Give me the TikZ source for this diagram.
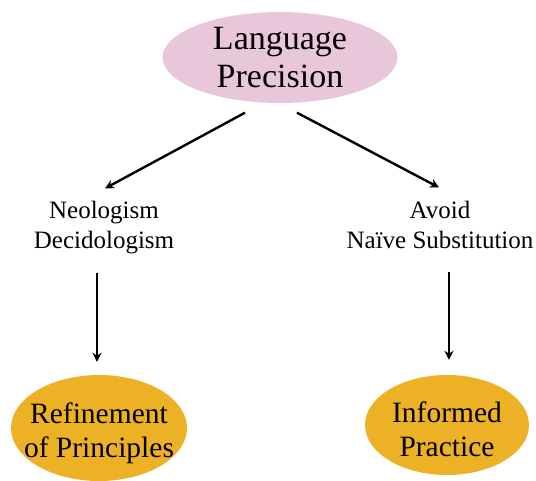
\documentclass[tikz,border=0pt]{standalone}
\usepackage{fontspec}
\setmainfont{Liberation Serif}
\usetikzlibrary{shapes.geometric,arrows.meta}
\definecolor{pinkfill}{RGB}{233,199,218}
\definecolor{goldfill}{RGB}{237,177,38}
\tikzset{
  pinkell/.style={ellipse, fill=pinkfill, inner sep=0pt, align=center,
    font=\fontsize{34}{38}\selectfont},
  goldell/.style={ellipse, fill=goldfill, inner sep=0pt},
  goldtext/.style={inner sep=0pt, align=center, font=\fontsize{29.5}{34}\selectfont},
  midtext/.style={inner sep=0pt, align=center, font=\fontsize{25}{30}\selectfont},
  arr/.style={line width=2.4pt, -{Stealth[length=9pt,width=9pt]}}
}
\begin{document}
\begin{tikzpicture}[x=1pt,y=-1pt]
\useasboundingbox (0,0) rectangle (536,481);
% top
\node[pinkell, minimum width=235pt, minimum height=91pt] (top) at (280,57.5) {Language\\Precision};
% middle labels
\node[midtext] (neo) at (104,227.5) {Neologism\\Decidologism};
\node[midtext] (avoid) at (440,224.5) {Avoid\\Naïve Substitution};
% bottom ellipses
\node[goldell, minimum width=176pt, minimum height=106pt] (ref) at (99,428) {};
\node[goldtext] (reft) at ([yshift=-5pt]ref.center) {Refinement\\of Principles};
\node[goldell, minimum width=164pt, minimum height=100pt] (inf) at (447,425) {};
\node[goldtext] (inft) at ([yshift=-4pt]inf.center) {Informed\\Practice};
% connector ends
\coordinate (a1s) at ([xshift=-35pt,yshift=-9.5pt]top.south);
\coordinate (a1e) at ([xshift=1pt,yshift=12.5pt]neo.north);
\coordinate (a2s) at ([xshift=17pt,yshift=-9.5pt]top.south);
\coordinate (a2e) at ([xshift=-1pt,yshift=13pt]avoid.north);
\coordinate (b1s) at ([xshift=-7pt,yshift=-18.5pt]neo.south);
\coordinate (b1e) at ([xshift=-2pt,yshift=13pt]ref.north);
\coordinate (b2s) at ([xshift=9pt,yshift=-24pt]avoid.south);
\coordinate (b2e) at ([xshift=2pt,yshift=15pt]inf.north);
\draw[arr] (a1s) -- (a1e);
\draw[arr] (a2s) -- (a2e);
\draw[arr] (b1s) -- (b1e);
\draw[arr] (b2s) -- (b2e);
\end{tikzpicture}
\end{document}
